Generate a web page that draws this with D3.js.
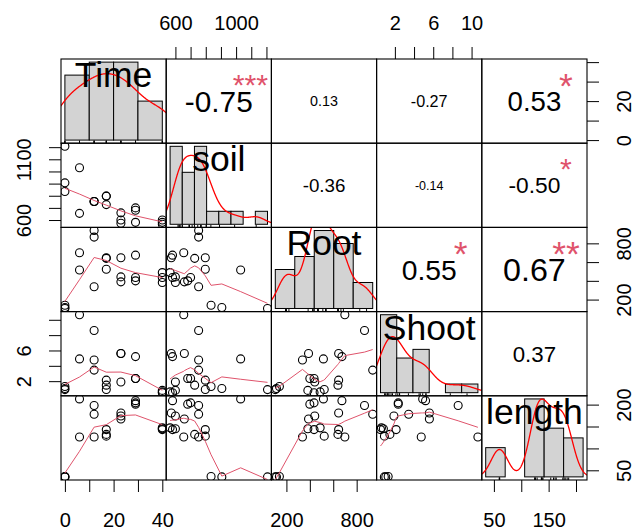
<!DOCTYPE html>
<html lang="en">
<head>
<meta charset="UTF-8">
<title>Correlation matrix</title>
<style>
body { margin: 0; background: #fff; }
svg { display: block; }
text { font-family: 'Liberation Sans', Arial, sans-serif; fill: #000; }
.bar { fill: #d3d3d3; stroke: #000; stroke-width: 1; }
.frame { fill: none; stroke: #000; stroke-width: 1.1; }
.dens { fill: none; stroke: #ff0000; stroke-width: 1.3; }
.smooth { fill: none; stroke: #df536b; stroke-width: 1; }
.pt { fill: none; stroke: #000; stroke-width: 1.1; }
.rug { stroke: #000; stroke-width: 1; }
.axis path.domain { display: none; }
.axis text { font-size: 20px; }
</style>
</head>
<body>
<svg width="636" height="532"></svg>
<script src="https://d3js.org/d3.v7.min.js"></script>
<script>

var varNames = ["Time", "soil", "Root", "Shoot", "length"];

var time   = [0, 0, 0, 6, 6, 12, 12, 12, 17, 17, 17, 23, 23, 23, 29, 29, 29, 40, 40, 40];
var soil   = [1207, 906, 835, 655, 1030, 753, 753, 753, 797, 797, 727, 573, 659, 600, 581, 700, 681, 565, 581, 600];
var root   = [105, 115, 140, 699, 516, 867, 937, 337, 646, 523, 640, 646, 389, 442, 674, 436, 400, 488, 436, 383];
var shoot  = [0.9, 1.05, 1.3, 10.66, 4.9, 8.6, 3.44, 4.75, 2.13, 0.91, 1.48, 5.6, 5.6, 1.9, 5.2, 2.35, 2.35, 0.6, 0.5, 0.8];
var len    = [35, 35, 36, 126, 213, 198, 178, 126, 143, 128, 132, 181, 167, 174, 209, 204, 201, 147, 143, 145];

var histBreaks = [
    [0, 10, 20, 30, 40],
    [500, 600, 700, 800, 900, 1000, 1100, 1200, 1300],
    [0, 200, 400, 600, 800, 1000],
    [0, 2, 4, 6, 8, 10, 12],
    [0, 50, 100, 150, 200, 250]
];

// upper panels: [row, col], value, significance stars
var corrPairs  = [[0, 1], [0, 2], [0, 3], [0, 4], [1, 2], [1, 3], [1, 4], [2, 3], [2, 4], [3, 4]];
var corrValues = [-0.75, 0.13, -0.27, 0.53, -0.36, -0.14, -0.50, 0.55, 0.67, 0.37];
var corrStars  = ["***", "", "", "*", "", "", "*", "*", "**", ""];

var axisTicks = [
    [0, 10, 20, 30, 40],
    [600, 700, 800, 900, 1000, 1100, 1200],
    [200, 400, 600, 800],
    [2, 4, 6, 8, 10],
    [50, 100, 150, 200]
];
// labels R kept (overlapping ones dropped): outer x axis, outer y axis
var xAxisLabels = [[0, 20, 40], [600, 1000], [200, 800], [2, 6, 10], [50, 150]];
var yAxisLabels = [[0, 20], [600, 1100], [200, 800], [2, 6], [50, 200]];

var cols = [time, soil, root, shoot, len];
var n = varNames.length;

var gridLeft = 61, gridTop = 59, cellW = 105.2, cellH = 84.2;
var svg = d3.select("svg");

function padded(e) {
    var r = e[1] - e[0];
    return [e[0] - 0.04 * r, e[1] + 0.04 * r];
}

var xScales = cols.map(function(v, i) {
    return d3.scaleLinear().domain(padded(d3.extent(v))).range([gridLeft + i * cellW, gridLeft + (i + 1) * cellW]);
});
var yScales = cols.map(function(v, i) {
    return d3.scaleLinear().domain(padded(d3.extent(v))).range([gridTop + (i + 1) * cellH, gridTop + i * cellH]);
});

// clip each cell like R's plot region
var defs = svg.append("defs");
for (var i = 0; i < n; i++) {
    for (var j = 0; j < n; j++) {
        defs.append("clipPath").attr("id", "c" + i + j)
            .append("rect")
            .attr("x", gridLeft + j * cellW).attr("y", gridTop + i * cellH)
            .attr("width", cellW).attr("height", cellH);
    }
}

// ---- lowess (port of R's clowess) ----
function lowest(X, Y, nn, xs, nleft, nright, w, userw, rw) {
    var range = X[nn] - X[1];
    var h = Math.max(xs - X[nleft], X[nright] - xs);
    var h9 = 0.999 * h, h1 = 0.001 * h;
    var a = 0, j = nleft;
    while (j <= nn) {
        w[j] = 0;
        var r = Math.abs(X[j] - xs);
        if (r <= h9) {
            if (r <= h1) w[j] = 1;
            else w[j] = Math.pow(1 - Math.pow(r / h, 3), 3);
            if (userw) w[j] *= rw[j];
            a += w[j];
        } else if (X[j] > xs) break;
        j++;
    }
    var nrt = j - 1;
    if (a <= 0) return null;
    for (j = nleft; j <= nrt; j++) w[j] /= a;
    if (h > 0) {
        a = 0;
        for (j = nleft; j <= nrt; j++) a += w[j] * X[j];
        var b = xs - a, c = 0;
        for (j = nleft; j <= nrt; j++) c += w[j] * (X[j] - a) * (X[j] - a);
        if (Math.sqrt(c) > 0.001 * range) {
            b /= c;
            for (j = nleft; j <= nrt; j++) w[j] *= (b * (X[j] - a) + 1);
        }
    }
    var out = 0;
    for (j = nleft; j <= nrt; j++) out += w[j] * Y[j];
    return out;
}

function lowess(xIn, yIn) {
    var f = 2 / 3, nsteps = 3;
    var order = d3.range(xIn.length).sort(function(a, b) { return xIn[a] - xIn[b]; });
    var X = [0].concat(order.map(function(k) { return xIn[k]; }));
    var Y = [0].concat(order.map(function(k) { return yIn[k]; }));
    var nn = xIn.length;
    var delta = 0.01 * (X[nn] - X[1]);
    var ys = new Array(nn + 1).fill(0), rw = new Array(nn + 1).fill(0), res = new Array(nn + 1).fill(0);
    var ns = Math.max(2, Math.min(nn, Math.floor(f * nn + 1e-7)));
    var iter = 1, i, j;
    while (iter <= nsteps + 1) {
        var nleft = 1, nright = ns, last = 0;
        i = 1;
        for (;;) {
            if (nright < nn) {
                var d1 = X[i] - X[nleft], d2 = X[nright + 1] - X[i];
                if (d1 > d2) { nleft++; nright++; continue; }
            }
            var v = lowest(X, Y, nn, X[i], nleft, nright, res, iter > 1, rw);
            ys[i] = v === null ? Y[i] : v;
            if (last < i - 1) {
                var denom = X[i] - X[last];
                for (j = last + 1; j < i; j++) {
                    var alpha = (X[j] - X[last]) / denom;
                    ys[j] = alpha * ys[i] + (1 - alpha) * ys[last];
                }
            }
            last = i;
            var cut = X[last] + delta;
            for (i = last + 1; i <= nn; i++) {
                if (X[i] > cut) break;
                if (X[i] === X[last]) { ys[i] = ys[last]; last = i; }
            }
            i = Math.max(last + 1, i - 1);
            if (last >= nn) break;
        }
        for (i = 1; i <= nn; i++) res[i] = Y[i] - ys[i];
        var sc = 0;
        for (i = 1; i <= nn; i++) sc += Math.abs(res[i]);
        sc /= nn;
        if (iter > nsteps) break;
        var s = [];
        for (i = 1; i <= nn; i++) s.push(Math.abs(res[i]));
        s.sort(function(a, b) { return a - b; });
        var m1 = Math.floor(nn / 2), cmad;
        if (nn % 2 === 0) cmad = 3 * (s[m1] + s[nn - m1 - 1]);
        else cmad = 6 * s[m1];
        if (cmad < 1e-7 * sc) break;
        var c9 = 0.999 * cmad, c1 = 0.001 * cmad;
        for (i = 1; i <= nn; i++) {
            var r = Math.abs(res[i]);
            rw[i] = r <= c1 ? 1 : (r <= c9 ? Math.pow(1 - Math.pow(r / cmad, 2), 2) : 0);
        }
        iter++;
    }
    return d3.range(1, nn + 1).map(function(k) { return [X[k], ys[k]]; });
}

// ---- gaussian density, bw.nrd0 ----
function density(v) {
    var sd = d3.deviation(v);
    var iqr = d3.quantile(v, 0.75) - d3.quantile(v, 0.25);
    var lo = Math.min(sd, iqr / 1.34);
    if (!lo) lo = sd || Math.abs(v[0]) || 1;
    var bw = 0.9 * lo * Math.pow(v.length, -0.2);
    var e = d3.extent(v), from = e[0] - 3 * bw, to = e[1] + 3 * bw;
    return d3.range(512).map(function(k) {
        var x = from + (to - from) * k / 511;
        var s = d3.sum(v, function(d) { return Math.exp(-0.5 * Math.pow((x - d) / bw, 2)); });
        return [x, s / (v.length * bw * Math.sqrt(2 * Math.PI))];
    });
}

function histCounts(v, br) {
    var c = br.slice(1).map(function() { return 0; });
    v.forEach(function(d) {
        for (var k = 0; k < br.length - 1; k++) {
            if ((d > br[k] || (k === 0 && d >= br[0])) && d <= br[k + 1]) { c[k]++; break; }
        }
    });
    return c;
}

// ---- lower panels: scatter + smooth ----
for (var i = 0; i < n; i++) {
    for (var j = 0; j < i; j++) {
        var g = svg.append("g").attr("clip-path", "url(#c" + i + j + ")");
        var xs = xScales[j], ys = yScales[i];
        var xv = cols[j], yv = cols[i];
        g.selectAll("circle").data(d3.range(xv.length)).enter().append("circle")
            .attr("class", "pt")
            .attr("cx", function(k) { return xs(xv[k]); })
            .attr("cy", function(k) { return ys(yv[k]); })
            .attr("r", 4);
        g.append("path").attr("class", "smooth")
            .attr("d", d3.line().x(function(d) { return xs(d[0]); }).y(function(d) { return ys(d[1]); })(lowess(xv, yv)));
    }
}

// ---- diagonal: histogram, density, rug, name ----
cols.forEach(function(v, i) {
    var br = histBreaks[i];
    var counts = histCounts(v, br);
    var dens = counts.map(function(c, k) { return c / (v.length * (br[k + 1] - br[k])); });
    var maxD = d3.max(dens);
    var hx = d3.scaleLinear().domain(padded([br[0], br[br.length - 1]])).range([gridLeft + i * cellW, gridLeft + (i + 1) * cellW]);
    var hy = d3.scaleLinear().domain([-0.04 * maxD, 1.04 * maxD]).range([gridTop + (i + 1) * cellH, gridTop + i * cellH]);
    var g = svg.append("g").attr("clip-path", "url(#c" + i + i + ")");
    g.selectAll("rect").data(dens).enter().append("rect")
        .attr("class", "bar")
        .attr("x", function(d, k) { return hx(br[k]); })
        .attr("width", function(d, k) { return hx(br[k + 1]) - hx(br[k]); })
        .attr("y", function(d) { return hy(d); })
        .attr("height", function(d) { return d > 0 ? hy(0) - hy(d) : 0; });
    g.append("path").attr("class", "dens")
        .attr("d", d3.line().x(function(d) { return hx(d[0]); }).y(function(d) { return hy(d[1]); })(density(v)));
    var bottom = gridTop + (i + 1) * cellH;
    g.selectAll("line.rug").data(v).enter().append("line")
        .attr("class", "rug")
        .attr("x1", function(d) { return hx(d); }).attr("x2", function(d) { return hx(d); })
        .attr("y1", bottom).attr("y2", bottom - 0.03 * cellH);
    svg.append("text")
        .attr("x", gridLeft + (i + 0.5) * cellW)
        .attr("y", gridTop + (i + 1 - 0.8333) * cellH + 14)
        .attr("text-anchor", "middle")
        .style("font-size", "35.5px")
        .text(varNames[i]);
});

// ---- upper panels: correlation values ----
var meas = svg.append("text").style("font-size", "100px");
function textWidth(s) {
    meas.text(s);
    return meas.node().getComputedTextLength() / 100;
}
corrPairs.forEach(function(p, k) {
    var r = corrValues[k];
    var txt = r.toFixed(2);
    var base = 0.8 * cellW / textWidth(txt);
    var fs = base * (Math.abs(r) + 0.3) / 1.3;
    var i = p[0], j = p[1];
    svg.append("text")
        .attr("x", gridLeft + (j + 0.5) * cellW)
        .attr("y", gridTop + (i + 0.5) * cellH + 0.358 * fs)
        .attr("text-anchor", "middle")
        .style("font-size", fs + "px")
        .text(txt);
    if (corrStars[k]) {
        var sfs = 0.82 * base;
        svg.append("text")
            .attr("x", gridLeft + (j + 0.8) * cellW)
            .attr("y", gridTop + (i + 0.2) * cellH + 0.62 * sfs)
            .attr("text-anchor", "middle")
            .style("font-size", sfs + "px")
            .style("fill", "#df536b")
            .text(corrStars[k]);
    }
});
meas.remove();

// ---- cell frames ----
for (var i = 0; i < n; i++) {
    for (var j = 0; j < n; j++) {
        svg.append("rect").attr("class", "frame")
            .attr("x", gridLeft + j * cellW).attr("y", gridTop + i * cellH)
            .attr("width", cellW).attr("height", cellH);
    }
}

// ---- outer axes, alternating like pairs() ----
function drawAxis(kind, scale, pos, ticks, labels) {
    var maker = { bottom: d3.axisBottom, top: d3.axisTop, left: d3.axisLeft, right: d3.axisRight }[kind];
    var ax = maker(scale).tickValues(ticks).tickSize(12)
        .tickFormat(function(d) { return labels.indexOf(d) >= 0 ? d : ""; });
    var horiz = kind === "bottom" || kind === "top";
    var g = svg.append("g").attr("class", "axis")
        .attr("transform", horiz ? "translate(0," + pos + ")" : "translate(" + pos + ",0)")
        .call(ax);
    var t = g.selectAll("text").attr("dy", null).attr("x", null).attr("y", null)
        .attr("text-anchor", "middle");
    if (kind === "bottom") t.attr("y", 47);
    if (kind === "top") t.attr("y", -29);
    if (kind === "left") t.attr("transform", "rotate(-90)").attr("y", -30);
    if (kind === "right") t.attr("transform", "rotate(-90)").attr("y", 44);
}

for (var k = 0; k < n; k++) {
    if (k % 2 === 0) {
        drawAxis("bottom", xScales[k], gridTop + n * cellH, axisTicks[k], xAxisLabels[k]);
        drawAxis("right", yScales[k], gridLeft + n * cellW, axisTicks[k], yAxisLabels[k]);
    } else {
        drawAxis("top", xScales[k], gridTop, axisTicks[k], xAxisLabels[k]);
        drawAxis("left", yScales[k], gridLeft, axisTicks[k], yAxisLabels[k]);
    }
}

</script>
</body>
</html>
